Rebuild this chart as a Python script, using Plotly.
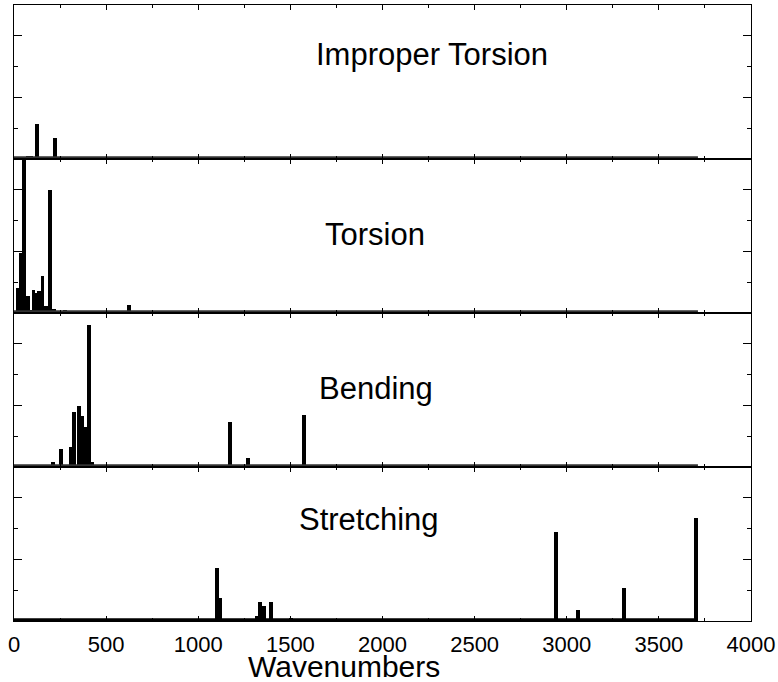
import plotly.graph_objects as go
from plotly.subplots import make_subplots

# ---- data (wavenumber, relative intensity) ----
improper_x = [75, 90, 125, 224, 240]
improper_y = [0.02, 0.02, 0.227, 0.136, 0.01]

torsion_x = [21, 35, 54, 76, 90, 106, 121, 136, 155, 175, 197, 218, 235, 275, 625]
torsion_y = [0.16, 0.39, 1.0, 0.11, 0.02, 0.147, 0.13, 0.143, 0.242, 0.047, 0.80, 0.025, 0.01, 0.02, 0.05]

bending_x = [184, 213, 255, 283, 310, 326, 355, 369, 382, 393, 405, 422, 440, 460, 1172, 1270, 1574]
bending_y = [0.015, 0.035, 0.115, 0.015, 0.13, 0.357, 0.396, 0.33, 0.234, 0.26, 0.92, 0.03, 0.01, 0.01, 0.29, 0.06, 0.34]

stretch_x = [675, 1044, 1083, 1102, 1120, 1157, 1248, 1320, 1335, 1355, 1394, 1503, 2942, 3061, 3311, 3701]
stretch_y = [0.015, 0.01, 0.012, 0.342, 0.147, 0.015, 0.01, 0.035, 0.121, 0.10, 0.121, 0.02, 0.58, 0.07, 0.215, 0.67]

panel_names = ["Improper Torsion", "Torsion", "Bending", "Stretching"]
label_x = [2266, 1960, 1967, 1929]
label_y = [0.68, 0.51, 0.51, 0.66]
baseline_end = 3712
xtick_vals = [0, 500, 1000, 1500, 2000, 2500, 3000, 3500, 4000]
xtick_text = ["0", "500", "1000", "1500", "2000", "2500", "3000", "3500", "4000"]
x_title = "Wavenumbers"

series = [(improper_x, improper_y), (torsion_x, torsion_y), (bending_x, bending_y), (stretch_x, stretch_y)]

FONT = "Arial, Liberation Sans, sans-serif"

fig = make_subplots(rows=4, cols=1, shared_xaxes=True, vertical_spacing=0)

for i, (xs, ys) in enumerate(series):
    r = i + 1
    fig.add_trace(go.Scatter(x=[0, baseline_end], y=[0.007, 0.007], mode="lines",
                             line=dict(color="black" if r == 4 else "#333333", width=3.5),
                             showlegend=False, hoverinfo="skip", cliponaxis=False), row=r, col=1)
    fig.add_trace(go.Bar(x=xs, y=ys, width=21, marker=dict(color="black", line=dict(width=0)),
                         showlegend=False), row=r, col=1)
    fig.add_annotation(x=label_x[i], y=label_y[i], xref=f"x{'' if r == 1 else r}",
                       yref=f"y{'' if r == 1 else r}", text=panel_names[i], showarrow=False,
                       font=dict(family=FONT, size=31, color="black"),
                       xanchor="center", yanchor="middle")
    fig.update_yaxes(range=[0, 1], showticklabels=False, showgrid=False, zeroline=False,
                     showline=True, linecolor="black", linewidth=1, mirror="ticks",
                     ticks="inside", tickvals=[0.4, 0.8], ticklen=8, tickwidth=1, tickcolor="black",
                     minor=dict(tickvals=[0.2, 0.6], ticks="inside", ticklen=4, tickwidth=1, tickcolor="black"),
                     automargin=False, row=r, col=1)
    fig.update_xaxes(range=[0, 4000], showgrid=False, zeroline=False,
                     showline=True, linecolor="black", linewidth=1, mirror="ticks",
                     ticks="inside", tickvals=xtick_vals, ticktext=xtick_text, ticklen=5,
                     tickwidth=1, tickcolor="black",
                     minor=dict(dtick=250, ticks="inside", ticklen=3, tickwidth=1, tickcolor="black"),
                     showticklabels=(r == 4), ticklabelstandoff=4,
                     tickfont=dict(family=FONT, size=22, color="black"),
                     automargin=False, row=r, col=1)

fig.update_layout(
    width=778, height=682,
    margin=dict(l=14, r=27, t=5, b=61),
    paper_bgcolor="white", plot_bgcolor="white",
    barmode="overlay", bargap=0,
    font=dict(family=FONT, color="black"),
)

# x-axis title as a paper-anchored annotation below the bottom panel
fig.add_annotation(x=(344 - 14) / 737, y=-(666 - 621) / 616, xref="paper", yref="paper",
                   text=x_title, showarrow=False, xanchor="center", yanchor="middle",
                   font=dict(family=FONT, size=30, color="black"))

fig.write_html("out.html")
